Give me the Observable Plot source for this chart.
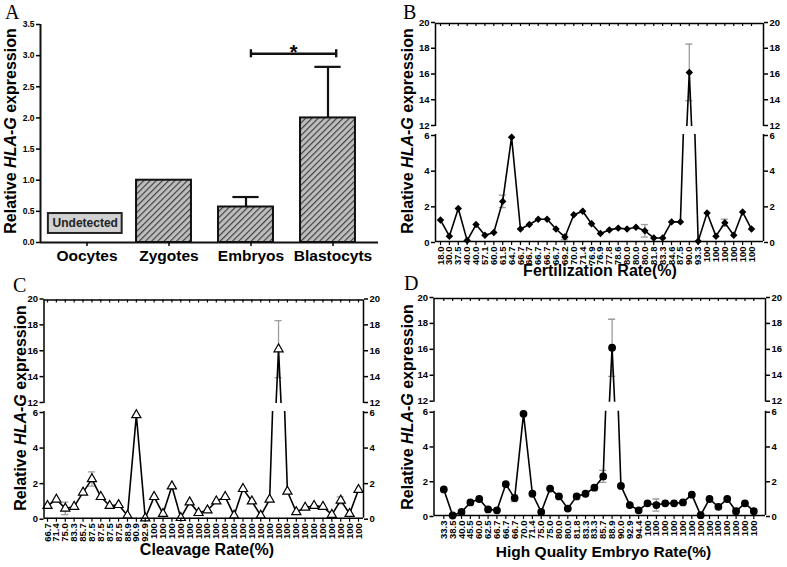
<!DOCTYPE html>
<html><head><meta charset="utf-8">
<script src="https://cdn.jsdelivr.net/npm/d3@7"></script>
<script src="https://cdn.jsdelivr.net/npm/@observablehq/plot@0.6"></script>
<style>
body{margin:0;background:#fff;}
#page{position:relative;width:787px;height:567px;overflow:hidden;background:#fff;font-family:"Liberation Sans",Arial,sans-serif;}
.lbl{position:absolute;white-space:nowrap;line-height:1;font-weight:bold;color:#000;font-family:"Liberation Sans",Arial,sans-serif;}
.letter{position:absolute;font-family:"Liberation Serif","Times New Roman",serif;font-size:20px;line-height:0.85;color:#000;}
</style></head><body><div id="page"></div>
<script>
// ---------------- DATA ----------------
// Panel A
const stages = ["Oocytes", "Zygotes", "Embryos", "Blastocyts"];
const stageValues = [null, 1.0, 0.57, 2.0];
const stageErrors = [0, 0, 0.16, 0.82];
const undetectedNote = "Undetected";
const undetectedRange = [0.145, 0.465];
const sigPair = ["Embryos", "Blastocyts"];
const sigLevel = 3.03;
const sigMark = "*";
const aTicks = [0, 0.5, 1, 1.5, 2, 2.5, 3, 3.5];

// Panel B
const fertLabels = ["18.0","30.0","37.5","40.0","40.0","57.1","60.0","61.5","64.7","66.7","66.7","66.7","66.7","66.7","69.2","70.0","71.4","76.9","76.9","77.8","78.6","80.0","80.0","80.0","81.8","83.3","84.6","87.5","90.0","93.3","100","100","100","100","100","100"];
const fertValues = [1.2,0.3,1.85,0.05,0.95,0.35,0.5,2.25,5.85,0.7,0.95,1.25,1.25,0.7,0.25,1.5,1.7,1.0,0.45,0.65,0.75,0.7,0.8,0.6,0.2,0.2,1.1,1.1,16.2,0.02,1.6,0.3,1.05,0.35,1.65,0.7];
const fertErrIndex = [7, 14, 23, 28, 32];
const fertErrValue = [0.35, 0.15, 0.35, 2.2, 0.2];

// Panel C
const cleavLabels = ["66.7","71.4","75.0","83.3","85.7","87.5","87.5","87.5","87.5","88.9","90.9","92.9","100","100","100","100","100","100","100","100","100","100","100","100","100","100","100","100","100","100","100","100","100","100","100","100"];
const cleavValues = [0.7,1.05,0.55,0.65,1.45,2.2,1.2,0.7,0.75,0.15,5.8,0.0,1.2,0.25,1.8,0.02,0.9,0.3,0.45,0.95,1.2,0.15,1.65,0.95,0.15,1.05,16.2,1.5,0.35,0.6,0.7,0.65,0.2,1.0,0.25,1.6];
const cleavErrIndex = [2, 5, 26, 33];
const cleavErrValue = [0.35, 0.4, 2.2, 0.2];

// Panel D
const hqLabels = ["33.3","38.5","40.0","45.5","60.0","62.5","66.7","66.7","66.7","70.0","71.4","75.0","75.0","80.0","80.0","81.8","83.3","83.3","85.7","88.9","90.0","92.9","94.4","100","100","100","100","100","100","100","100","100","100","100","100","100"];
const hqValues = [1.5,0.0,0.2,0.75,0.95,0.35,0.3,1.8,1.0,5.85,1.25,0.2,1.55,1.1,0.4,1.1,1.25,1.6,2.25,16.2,1.7,0.6,0.3,0.7,0.6,0.7,0.7,0.75,1.2,0.02,0.95,0.5,0.95,0.25,0.7,0.25];
const hqErrIndex = [8, 18, 19, 24, 33];
const hqErrValue = [0.2, 0.35, 2.2, 0.35, 0.15];

const upperTicks = [12, 14, 16, 18, 20];
const lowerTicks = [0, 2, 4, 6];
const yTitleHTML = "Relative <i>HLA-G</i> expression";

// ---------------- LAYOUT ----------------
const W = 787, H = 567;
const page = document.getElementById("page");
const FONT = "'Liberation Sans',Arial,sans-serif";
const svgStyle = `position:absolute;left:0;top:0;background:transparent;overflow:visible;font-family:${FONT};font-weight:bold;font-size:10px;color:#000;`;

function place(frame, opts) {
  const svg = Plot.plot({
    width: W, height: H,
    marginLeft: frame.l, marginRight: W - frame.r, marginTop: frame.t, marginBottom: H - frame.b,
    style: svgStyle,
    ...opts
  });
  page.appendChild(svg);
  return svg;
}

function addDiv(cls, html, css) {
  const d = document.createElement("div");
  d.className = cls;
  d.innerHTML = html;
  d.style.cssText = css;
  page.appendChild(d);
}
function vTitle(cx, cy, size) {
  addDiv("lbl", yTitleHTML, `left:${cx}px;top:${cy}px;font-size:${size}px;transform:translate(-50%,-50%) rotate(-90deg);`);
}
function hTitle(text, cx, cy, size) {
  addDiv("lbl", text, `left:${cx}px;top:${cy}px;font-size:${size}px;transform:translate(-50%,-50%);`);
}

// ---------------- PANEL A ----------------
(function () {
  const fr = {l: 40, r: 378, t: 24, b: 242};
  const c0 = 81.5, stp = 82; // pixel centre of first category, pixel step
  const xd = [-(c0 - fr.l) / stp, (stages.length - 1) + (fr.r - (c0 + stp * (stages.length - 1))) / stp];
  const rows = stages.map((s, i) => ({i, s, v: stageValues[i], e: stageErrors[i]}));
  const bars = rows.filter(d => d.v != null);
  const errs = rows.filter(d => d.v != null && d.e > 0);
  const hw = 0.335;
  const si = sigPair.map(s => stages.indexOf(s));
  const sig = [{a: si[0] + 0.06, b: si[1] + 0.1, y: sigLevel, t: sigMark}];
  const und = [{i: stages.indexOf("Oocytes"), t: undetectedNote}];
  const svg = place(fr, {
    x: {domain: xd},
    y: {domain: [0, 3.5]},
    marks: [
      Plot.rect(bars, {x1: d => d.i - hw, x2: d => d.i + hw, y1: 0, y2: "v", fill: "url(#hatchA)", stroke: "#111", strokeWidth: 2}),
      Plot.ruleX(errs, {x: "i", y1: "v", y2: d => d.v + d.e, stroke: "#111", strokeWidth: 2.2}),
      Plot.ruleY(errs, {y: d => d.v + d.e, x1: d => d.i - 0.16, x2: d => d.i + 0.16, stroke: "#111", strokeWidth: 2.2}),
      Plot.rect(und, {x1: d => d.i - 0.41, x2: d => d.i + 0.49, y1: undetectedRange[0], y2: undetectedRange[1], fill: "#d2d2d2", stroke: "#222", strokeWidth: 2}),
      Plot.text(und, {x: d => d.i + 0.04, y: (undetectedRange[0] + undetectedRange[1]) / 2, text: "t", fontSize: 12, fontWeight: "bold", fill: "#222"}),
      Plot.ruleY(sig, {y: "y", x1: "a", x2: "b", stroke: "#111", strokeWidth: 2.4}),
      Plot.ruleX(sig, {x: "a", y1: d => d.y - 0.065, y2: d => d.y + 0.065, stroke: "#111", strokeWidth: 2.4}),
      Plot.ruleX(sig, {x: "b", y1: d => d.y - 0.065, y2: d => d.y + 0.065, stroke: "#111", strokeWidth: 2.4}),
      Plot.text(sig, {x: d => (d.a + d.b) / 2, y: "y", text: "t", fontSize: 20, fontWeight: "bold", dy: -1}),
      Plot.ruleX([xd[0]], {stroke: "#111", strokeWidth: 2}),
      Plot.ruleY([0], {stroke: "#111", strokeWidth: 2}),
      Plot.axisY({anchor: "left", ticks: aTicks, tickFormat: d3.format(".1f"), tickSize: 4, tickPadding: 2, label: null, fontSize: 8.5, fontWeight: "bold", strokeWidth: 1.5}),
      Plot.axisX({anchor: "bottom", ticks: d3.range(stages.length), tickFormat: i => stages[i], tickSize: 4, tickPadding: 3, label: null, fontSize: 15.5, fontWeight: "bold", dx: 5, strokeWidth: 1.5})
    ]
  });
  const defs = d3.select(svg).insert("defs", ":first-child");
  const p = defs.append("pattern").attr("id", "hatchA").attr("patternUnits", "userSpaceOnUse")
    .attr("width", 4.4).attr("height", 4.4).attr("patternTransform", "rotate(45)");
  p.append("rect").attr("width", 4.4).attr("height", 4.4).attr("fill", "#bdbdbd");
  p.append("line").attr("x1", 0).attr("y1", 0).attr("x2", 0).attr("y2", 4.4).attr("stroke", "#3a3a3a").attr("stroke-width", 2.2);
})();

// ---------------- BROKEN-AXIS PANELS ----------------
function brokenPanel(cfg) {
  const {labels, values, errIndex, errValue, symbol, fill, r, fr} = cfg;
  const n = labels.length;
  const step = (fr.pN - fr.p0) / (n - 1);
  const xd = [-(fr.p0 - fr.l) / step, (n - 1) + (fr.r - fr.pN) / step];
  const pts = values.map((v, i) => ({i, v}));
  const errs = errIndex.map((i, k) => ({i, v: values[i], e: errValue[k]}));
  const idx = d3.range(n);
  const axisW = 1.5, grey = "#9c9c9c";
  const yAxisOpts = {tickSize: 4, tickPadding: 2, tickFormat: d => String(d), label: null, fontSize: 9.5, fontWeight: "bold", strokeWidth: axisW};
  const body = (ydom, ticks, ay) => [
    Plot.ruleX(errs, {x: "i", y1: d => d.v - d.e, y2: d => d.v + d.e, stroke: grey, strokeWidth: 1.3, clip: true}),
    Plot.ruleY(errs, {y: d => d.v + d.e, x1: d => d.i - 0.4, x2: d => d.i + 0.4, stroke: grey, strokeWidth: 1.3, clip: true}),
    Plot.ruleY(errs, {y: d => d.v - d.e, x1: d => d.i - 0.4, x2: d => d.i + 0.4, stroke: grey, strokeWidth: 1.3, clip: true}),
    Plot.line(pts, {x: "i", y: "v", stroke: "#000", strokeWidth: 1.6, clip: true}),
    Plot.dot(pts.filter(d => d.v >= ydom[0] - 0.01 && d.v <= ydom[1]), {x: "i", y: "v", symbol, r, fill, stroke: "#000", strokeWidth: 1.2}),
    Plot.ruleX(xd, {stroke: "#000", strokeWidth: axisW}),
    Plot.axisY({anchor: "left", ticks, ...yAxisOpts, ...ay}),
    Plot.axisY({anchor: "right", ticks, ...yAxisOpts, ...ay})
  ];
  const upperDom = [upperTicks[0], upperTicks[upperTicks.length - 1]];
  const lowerDom = [lowerTicks[0], lowerTicks[lowerTicks.length - 1]];
  const tickLen = 3 * (upperDom[1] - upperDom[0]) / (fr.brkTop - fr.top);
  place({l: fr.l, r: fr.r, t: fr.top, b: fr.brkTop}, {
    x: {domain: xd, axis: null},
    y: {domain: upperDom},
    marks: [
      ...body(upperDom, upperTicks, {dy: -1}),
      Plot.ruleY([upperDom[1]], {stroke: "#000", strokeWidth: axisW}),
      Plot.ruleX(idx, {x: d => d, y1: upperDom[1], y2: upperDom[1] - tickLen, stroke: "#000", strokeWidth: 1.2})
    ]
  });
  place({l: fr.l, r: fr.r, t: fr.brkBot, b: fr.bottom}, {
    x: {domain: xd},
    y: {domain: lowerDom},
    marks: [
      ...body(lowerDom, lowerTicks, {dy: 1}),
      Plot.ruleY([lowerDom[0]], {stroke: "#000", strokeWidth: axisW}),
      Plot.axisX({anchor: "bottom", ticks: idx, tickFormat: i => labels[i], tickRotate: -90, tickSize: 4, tickPadding: 1, label: null, fontSize: 9.5, fontWeight: "bold", strokeWidth: 1.2})
    ]
  });
}

brokenPanel({
  labels: fertLabels, values: fertValues, errIndex: fertErrIndex, errValue: fertErrValue,
  symbol: "diamond2", fill: "#000", r: 2.6,
  fr: {l: 435, r: 763, p0: 440, pN: 751, top: 23, brkTop: 126, brkBot: 134, bottom: 241}
});
brokenPanel({
  labels: cleavLabels, values: cleavValues, errIndex: cleavErrIndex, errValue: cleavErrValue,
  symbol: "triangle", fill: "#fff", r: 3.4,
  fr: {l: 43.5, r: 363, p0: 47, pN: 358, top: 299.5, brkTop: 403, brkBot: 411, bottom: 517.7}
});
brokenPanel({
  labels: hqLabels, values: hqValues, errIndex: hqErrIndex, errValue: hqErrValue,
  symbol: "circle", fill: "#000", r: 3.3,
  fr: {l: 433.5, r: 765, p0: 443.3, pN: 753.3, top: 298, brkTop: 401.7, brkBot: 410.7, bottom: 515}
});

// ---------------- TEXT ----------------
vTitle(11, 131, 16);
vTitle(408, 131, 16);
vTitle(21, 408, 16);
vTitle(408, 407, 16);
hTitle("Fertilization Rate(%)", 600, 271, 16);
hTitle("Cleavage Rate(%)", 207, 550, 16);
hTitle("High Quality Embryo Rate(%)", 603.5, 552, 15.5);
addDiv("letter", "A", "left:5px;top:4px;");
addDiv("letter", "B", "left:403px;top:4px;");
addDiv("letter", "C", "left:13px;top:277px;");
addDiv("letter", "D", "left:404px;top:275px;");
</script></body></html>
